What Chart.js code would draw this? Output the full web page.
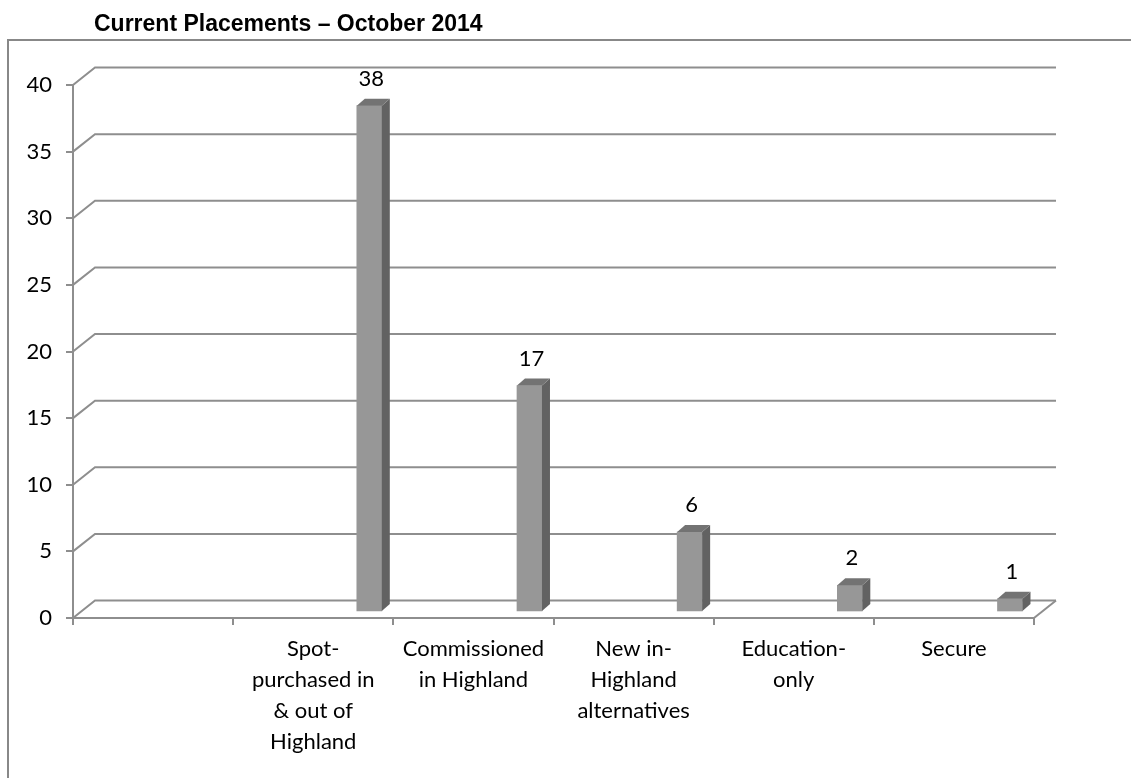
<!DOCTYPE html>
<html>
<head>
<meta charset="utf-8">
<title>Current Placements – October 2014</title>
<script src="https://cdn.jsdelivr.net/npm/chart.js@4.4.1/dist/chart.umd.min.js"></script>
<style>
    html, body { margin: 0; padding: 0; background: #fff; }
    #wrap { position: relative; width: 1131px; height: 778px; }
</style>
</head>
<body>
<div id="wrap"><canvas id="placementsChart" width="1131" height="778"></canvas></div>
<script>
var chartTitle = "Current Placements \u2013 October 2014";
var categories = [
    "",
    ["Spot-", "purchased in", "& out of", "Highland"],
    ["Commissioned", "in Highland"],
    ["New in-", "Highland", "alternatives"],
    ["Education-", "only"],
    ["Secure"]
];
var placements = [null, 38, 17, 6, 2, 1];
var yTicks = [0, 5, 10, 15, 20, 25, 30, 35, 40];

var lineGrey = "#8e8e8e";
var labelFont = { family: "Lato", size: 22 };

// depth of the fake 3d box and where the columns sit inside it
var depthX = 22, depthY = 17.5;
var barShift = 0.35, barLift = 6;
var faceX = 8, faceY = 7;

var boxPlugin = {
    id: "box3d",
    beforeDraw: function(chart) {
        var ctx = chart.ctx;
        ctx.save();
        ctx.strokeStyle = "#888";
        ctx.lineWidth = 2;
        ctx.beginPath();
        ctx.moveTo(8, chart.height);
        ctx.lineTo(8, 40);
        ctx.lineTo(chart.width, 40);
        ctx.stroke();
        ctx.fillStyle = "#000";
        ctx.font = "bold 23px 'Liberation Sans', Arial, sans-serif";
        ctx.textBaseline = "alphabetic";
        ctx.fillText(chartTitle, 94, 31);
        ctx.restore();
    },
    beforeDatasetsDraw: function(chart) {
        var ctx = chart.ctx;
        var area = chart.chartArea;
        var y = chart.scales.y;
        var x = chart.scales.x;
        ctx.save();
        ctx.strokeStyle = lineGrey;
        ctx.lineWidth = 2;
        for (var i = 0; i < yTicks.length; i++) {
            var py = y.getPixelForValue(yTicks[i]);
            ctx.beginPath();
            ctx.moveTo(area.left, py);
            ctx.lineTo(area.left + depthX, py - depthY);
            ctx.lineTo(area.right + depthX, py - depthY);
            ctx.stroke();
        }
        ctx.beginPath();
        ctx.moveTo(area.right, area.bottom);
        ctx.lineTo(area.right + depthX, area.bottom - depthY);
        ctx.stroke();
        ctx.restore();

        var step = x.getPixelForValue(1) - x.getPixelForValue(0);
        chart.$shift = step * barShift;
        ctx.save();
        ctx.translate(chart.$shift, -barLift);
    },
    afterDatasetsDraw: function(chart) {
        var ctx = chart.ctx;
        var bars = chart.getDatasetMeta(0).data;
        for (var i = 0; i < bars.length; i++) {
            if (placements[i] === null) continue;
            var b = bars[i];
            var l = b.x - b.width / 2, r = b.x + b.width / 2;
            ctx.fillStyle = "#626262";
            ctx.beginPath();
            ctx.moveTo(r, b.y);
            ctx.lineTo(r + faceX, b.y - faceY);
            ctx.lineTo(r + faceX, b.base - faceY);
            ctx.lineTo(r, b.base);
            ctx.closePath();
            ctx.fill();
            ctx.fillStyle = "#737373";
            ctx.beginPath();
            ctx.moveTo(l, b.y);
            ctx.lineTo(l + faceX, b.y - faceY);
            ctx.lineTo(r + faceX, b.y - faceY);
            ctx.lineTo(r, b.y);
            ctx.closePath();
            ctx.fill();
        }
        ctx.restore();

        ctx.save();
        ctx.fillStyle = "#000";
        ctx.font = "22px Lato";
        ctx.textAlign = "center";
        ctx.textBaseline = "middle";
        for (var j = 0; j < bars.length; j++) {
            if (placements[j] === null) continue;
            ctx.fillText(String(placements[j]), bars[j].x + chart.$shift + 2, bars[j].y - barLift - 27);
        }
        ctx.restore();
    }
};

function createChart(canvas) {
    return new Chart(canvas, {
        type: "bar",
        data: {
            labels: categories,
            datasets: [{
                label: "Placements",
                data: placements,
                backgroundColor: "#979797",
                borderWidth: 0,
                barThickness: 25
            }]
        },
        options: {
            responsive: false,
            animation: false,
            layout: { padding: { top: 85, right: 97, bottom: 0, left: 0 } },
            plugins: {
                legend: { display: false },
                title: { display: false },
                tooltip: { enabled: false }
            },
            scales: {
                x: {
                    afterFit: function(scale) { scale.height = 160; },
                    grid: { offset: true, drawOnChartArea: false, tickLength: 7, color: lineGrey, lineWidth: 2 },
                    border: { color: lineGrey, width: 2 },
                    ticks: { color: "#000", font: { family: "Lato", size: 22, lineHeight: 1.4 }, padding: 9, maxRotation: 0, autoSkip: false }
                },
                y: {
                    min: 0,
                    max: 40,
                    afterFit: function(scale) { scale.width = 73; },
                    grid: { drawOnChartArea: false, tickLength: 7, color: lineGrey, lineWidth: 2 },
                    border: { color: lineGrey, width: 2 },
                    ticks: { stepSize: 5, color: "#000", font: labelFont, padding: 14 }
                }
            }
        },
        plugins: [boxPlugin]
    });
}

var placementsChart = createChart(document.getElementById("placementsChart"));
</script>
</body>
</html>
